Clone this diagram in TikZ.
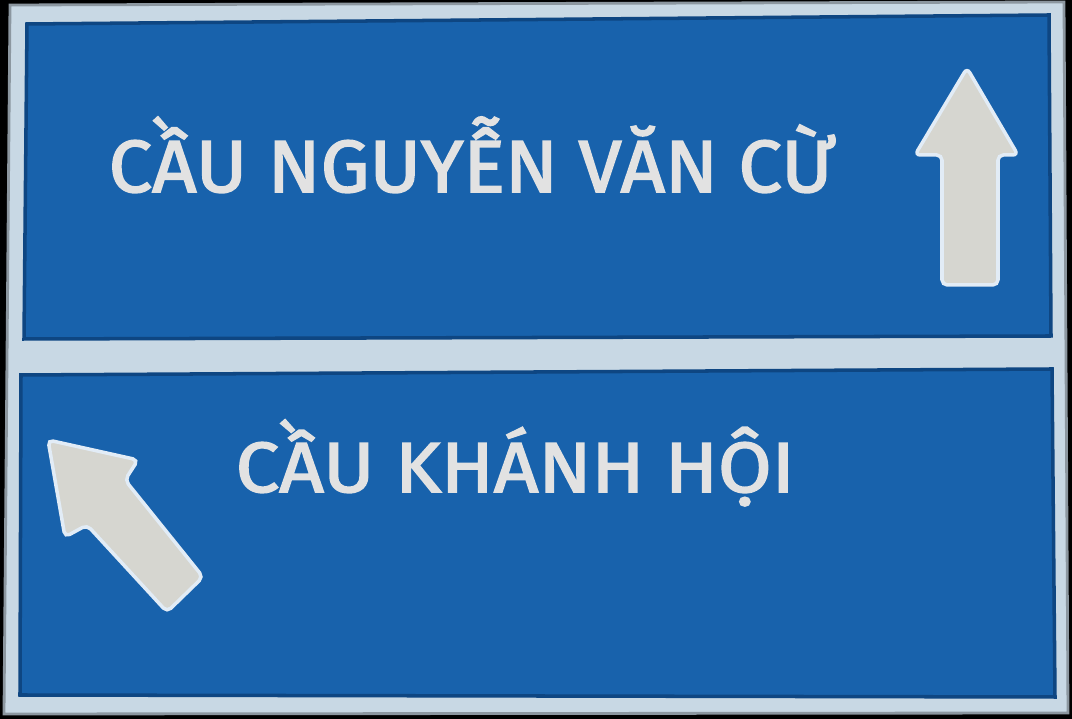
\documentclass[tikz,border=0pt]{standalone}
\usepackage{fontspec}
\setmainfont{Fira Sans}
\newfontfamily\signfont{Fira Sans}[FakeBold=2.2]

\definecolor{signblue}{RGB}{24,98,172}
\definecolor{edgeblue}{RGB}{14,70,130}
\definecolor{framegrey}{RGB}{200,216,228}
\definecolor{arrowfill}{RGB}{214,214,208}
\definecolor{arrowedge}{RGB}{226,236,246}
\definecolor{lettering}{RGB}{226,226,226}

\tikzset{panel/.style={fill=signblue,draw=edgeblue,line width=1pt},
        frame/.style={fill=framegrey,draw=framegrey!70!black,line width=0.8pt},
        arrowshape/.style={fill=arrowfill,draw=arrowedge,line width=1pt,rounded corners=1.5pt},
        signtext/.style={text=lettering,inner sep=0pt,anchor=base west}}

\begin{document}
\begin{tikzpicture}[x=0.01cm,y=-0.01cm]
        \fill[black] (0,0) rectangle (1072,719);
        \useasboundingbox (0,0) rectangle (1072,719);

        % sign board and its two panels
        \draw[frame] (10,5) -- (1064,2) -- (1068,713) -- (4,714) -- cycle;
        \draw[panel] (27,24) -- (1049,15) -- (1051,336) -- (24,339) -- cycle;
        \draw[panel] (21,375) -- (1052,369) -- (1055,697) -- (20,695) -- cycle;

        % arrows
        \draw[arrowshape] (967,68) -- (1018,155) -- (998,155) -- (998,285)
                -- (942,285) -- (942,155) -- (915,155) -- cycle;
        \draw[arrowshape] (48,440) -- (138,460) -- (125,480) -- (203,577)
                -- (167,612) -- (87,525) -- (65,537) -- cycle;

        % destinations
        \node[signtext,font=\signfont\fontsize{21}{24}\selectfont] (nvc) at (108,192)
                {\scalebox{1.05}[1]{CẦU NGUYỄN VĂN CỪ}};
        \node[signtext,font=\signfont\fontsize{20.2}{24}\selectfont] (kh) at (235,492)
                {\scalebox{1.095}[1]{CẦU KHÁNH HỘI}};
\end{tikzpicture}
\end{document}
